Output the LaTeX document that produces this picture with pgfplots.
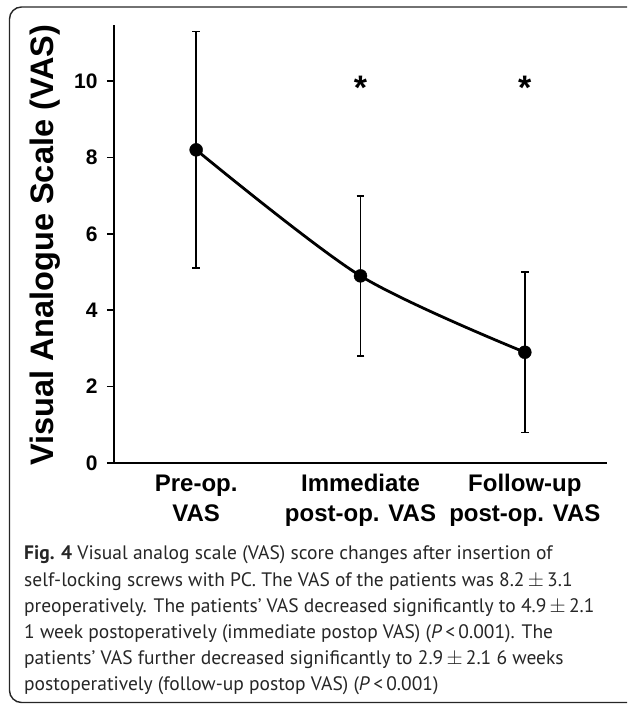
\documentclass[border=0pt]{standalone}
\usepackage{fontspec}
\setmainfont{Liberation Sans}
\newfontfamily\capfont{PT Sans}
\usepackage{pgfplots}
\pgfplotsset{compat=1.18}
\begin{document}
\begin{tikzpicture}[x=1pt,y=1pt]
\useasboundingbox (0,0) rectangle (627,704);
\begin{scope}
\clip (0,0) rectangle (627,704);
\draw[line width=1.4pt, color=black!85, rounded corners=12pt] (9.5,1.5) rectangle (680,697);
\end{scope}
\begin{axis}[
  at={(114pt,241pt)}, anchor=south west,
  scale only axis, width=493pt, height=438pt,
  xmin=-0.5, xmax=2.5, ymin=0, ymax=11.47,
  axis x line=bottom, axis y line=left,
  axis line style={-, line width=2pt},
  xtick={0,1,2},
  xticklabels={{Pre-op.\\VAS},{Immediate\\post-op. VAS},{Follow-up\\post-op. VAS}},
  x tick style={draw=none},
  ytick={0,2,4,6,8,10},
  y tick style={line width=1.6pt, black},
  tick align=outside,
  major tick length=7pt,
  /pgf/number format/assume math mode=true,
  xticklabel style={align=center, font=\bfseries\fontsize{24}{30}\selectfont, yshift=-1pt},
  yticklabel style={font=\bfseries\fontsize{21}{24}\selectfont, xshift=-6pt},
  ylabel={Visual Analogue Scale (VAS)},
  ylabel style={font=\bfseries\fontsize{32.5}{36}\selectfont, at={(axis description cs:-0.139,0.497)}, anchor=center, rotate=0},
  clip=false,
]
\addplot[black, line width=2.8pt, smooth, tension=0.5,
  mark=*, mark size=6.5pt, mark options={solid, line width=0.4pt},
  error bars/.cd, y dir=both, y explicit,
  error bar style={line width=1.8pt, black},
  error mark options={rotate=90, line width=1.8pt, mark size=3.8pt, black}]
  coordinates {
    (0,8.2) +- (0,3.1)
    (1,4.9) +- (0,2.1)
    (2,2.9) +- (0,2.1)
  };
\node[font=\bfseries\fontsize{34}{34}\selectfont, yshift=-7pt] at (axis cs:1,10) {*};
\node[font=\bfseries\fontsize{34}{34}\selectfont, yshift=-7pt] at (axis cs:2,10) {*};
\end{axis}
\begin{scope}[font=\capfont\fontsize{19.5}{26}\selectfont, color=black!85]
\node[anchor=base west, inner sep=0pt] at (24,704-560) {\textbf{Fig. 4} Visual analog scale (VAS) score changes after insertion of};
\node[anchor=base west, inner sep=0pt] at (24,704-586.2) {self-locking screws with PC. The VAS of the patients was 8.2\,$\pm$\,3.1};
\node[anchor=base west, inner sep=0pt] at (24,704-612.4) {preoperatively. The patients’ VAS decreased significantly to 4.9\,$\pm$\,2.1};
\node[anchor=base west, inner sep=0pt] at (24,704-638.6) {1 week postoperatively (immediate postop VAS) (\textit{P}\,<\,0.001). The};
\node[anchor=base west, inner sep=0pt] at (24,704-664.8) {patients’ VAS further decreased significantly to 2.9\,$\pm$\,2.1 6 weeks};
\node[anchor=base west, inner sep=0pt] at (24,704-691) {postoperatively (follow-up postop VAS) (\textit{P}\,<\,0.001)};
\end{scope}
\end{tikzpicture}
\end{document}
